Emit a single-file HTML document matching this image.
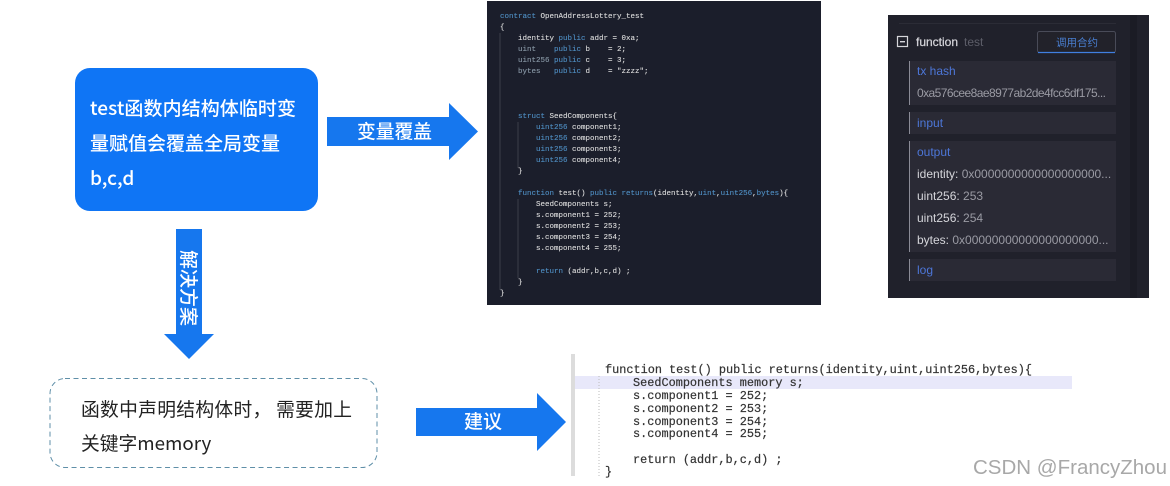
<!DOCTYPE html>
<html><head><meta charset="utf-8">
<style>
html,body{margin:0;padding:0;background:#fff;width:1170px;height:486px;overflow:hidden}
svg{display:block}
text{white-space:pre}
.s{font-family:"Noto Sans CJK SC","Liberation Sans",sans-serif}
.c text{font-family:"Liberation Mono",monospace;font-size:7.5px;stroke-width:.12}
.r text{font-family:"Liberation Mono",monospace;font-size:11.87px;fill:#333;stroke:#333;stroke-width:.2}
.w{fill:#fff;font-family:"Noto Sans CJK SC","Liberation Sans",sans-serif;font-weight:500}
.p text{font-family:"Liberation Sans","Noto Sans CJK SC",sans-serif;font-size:12px}
.bl{fill:#4d76d8}.gr{fill:#9a9aa3}.wh{fill:#d5d5da}
.k{fill:#4f8fc4;stroke:#4f8fc4}.t{fill:#dcdcdc;stroke:#dcdcdc}.d{fill:#8a9aa8;stroke:#8a9aa8}
</style></head><body>
<svg width="1170" height="486" viewBox="0 0 1170 486" xmlns="http://www.w3.org/2000/svg">
<defs><filter id="b" x="-2%" y="-2%" width="104%" height="104%"><feGaussianBlur stdDeviation="0.35"/></filter></defs>
<rect x="75" y="68" width="243" height="143" rx="15" fill="#0f75f5"/>
<g class="s" fill="#fff" font-size="19" font-weight="500">
<text x="90" y="115" textLength="206">test函数内结构体临时变</text>
<text x="90" y="150" textLength="190">量赋值会覆盖全局变量</text>
<text x="90" y="185">b,c,d</text>
</g>
<polygon points="327,117 449,117 449,103 478,131.500 449,160 449,146 327,146" fill="#1677ee"/>
<text class="w" x="357" y="138" font-size="18.750">变量覆盖</text>
<polygon points="176,229 202,229 202,334 214,334 189,359 164,334 176,334" fill="#1677ee"/>
<text class="w" font-size="19" transform="translate(182,250) rotate(90)">解决方案</text>
<rect x="50" y="378.500" width="327" height="89" rx="15" fill="#fff" stroke="#5f8fa8" stroke-width="1" stroke-dasharray="5 3.500"/>
<g class="s" fill="#222" font-size="18.750">
<text x="81" y="416" textLength="271">函数中声明结构体时， 需要加上</text>
<text x="81" y="450">关键字memory</text>
</g>
<polygon points="416,408 537,408 537,393 566,422 537,451 537,436 416,436" fill="#1677ee"/>
<text class="w" x="464" y="428" font-size="19">建议</text>

<rect x="487" y="1" width="334" height="304" fill="#1b1e2b"/>
<g filter="url(#b)">
<path d="M500 33V290M518 122V168M518 199V278" stroke="#3a3d4a" stroke-width="1" fill="none"/>
<g class="c">
<text x="500" y="18"><tspan class="k">contract</tspan><tspan class="t"> OpenAddressLottery_test</tspan></text>
<text x="500" y="29" class="t">{</text>
<text x="518" y="40"><tspan class="t">identity</tspan><tspan class="k"> public</tspan><tspan class="t"> addr = 0xa;</tspan></text>
<text x="518" y="51"><tspan class="d">uint</tspan><tspan class="k">    public</tspan><tspan class="t"> b    = 2;</tspan></text>
<text x="518" y="62"><tspan class="d">uint256</tspan><tspan class="k"> public</tspan><tspan class="t"> c    = 3;</tspan></text>
<text x="518" y="73"><tspan class="d">bytes</tspan><tspan class="k">   public</tspan><tspan class="t"> d    = "zzzz";</tspan></text>
<text x="518" y="118"><tspan class="k">struct</tspan><tspan class="t"> SeedComponents{</tspan></text>
<text x="536" y="129"><tspan class="k">uint256</tspan><tspan class="t"> component1;</tspan></text>
<text x="536" y="140"><tspan class="k">uint256</tspan><tspan class="t"> component2;</tspan></text>
<text x="536" y="151"><tspan class="k">uint256</tspan><tspan class="t"> component3;</tspan></text>
<text x="536" y="162"><tspan class="k">uint256</tspan><tspan class="t"> component4;</tspan></text>
<text x="518" y="173" class="t">}</text>
<text x="518" y="195"><tspan class="k">function</tspan><tspan class="t"> test()</tspan><tspan class="k"> public returns</tspan><tspan class="t">(identity,</tspan><tspan class="k">uint</tspan><tspan class="t">,</tspan><tspan class="k">uint256</tspan><tspan class="t">,</tspan><tspan class="k">bytes</tspan><tspan class="t">){</tspan></text>
<text x="536" y="206" class="t">SeedComponents s;</text>
<text x="536" y="217" class="t">s.component1 = 252;</text>
<text x="536" y="228" class="t">s.component2 = 253;</text>
<text x="536" y="239" class="t">s.component3 = 254;</text>
<text x="536" y="250" class="t">s.component4 = 255;</text>
<text x="536" y="273"><tspan class="k">return</tspan><tspan class="t"> (addr,b,c,d) ;</tspan></text>
<text x="518" y="284" class="t">}</text>
<text x="500" y="295" class="t">}</text>
</g>
</g>

<rect x="888" y="15" width="261" height="283" fill="#20212b"/>
<rect x="1130" y="15" width="7" height="283" fill="#1b1c25"/>
<rect x="899" y="23" width="217" height="1" fill="#2b2c36"/>
<g filter="url(#b)">
<rect x="897.500" y="36.500" width="10" height="10" fill="none" stroke="#d5d5da" stroke-width="1.200"/>
<rect x="900" y="41" width="5" height="1.400" fill="#d5d5da"/>
<rect x="1037.500" y="31.500" width="78" height="21" rx="2" fill="#20212b" stroke="#4a4c58"/>
<path d="M1038 52.500H1115" stroke="#3f7fe0" stroke-width="1.200"/>
<rect x="909" y="61" width="207" height="44" fill="#2a2b36"/>
<rect x="909" y="112" width="207" height="22" fill="#2a2b36"/>
<rect x="909" y="141" width="207" height="111" fill="#2a2b36"/>
<rect x="909" y="259" width="207" height="22" fill="#2a2b36"/>
<path d="M909.500 61V105M909.500 112V134M909.500 141V252M909.500 259V281" stroke="#8a8b96" stroke-width="1"/>
<g class="p">
<text x="916" y="46" class="wh" stroke="#d5d5da" stroke-width=".25">function</text>
<text x="964" y="46" fill="#5c5d68">test</text>
<text x="1056" y="46" fill="#4a7fd0" style="font-size:10.500px">调用合约</text>
<text x="917" y="75" class="bl">tx hash</text>
<text x="917" y="97" class="gr" textLength="189">0xa576cee8ae8977ab2de4fcc6df175...</text>
<text x="917" y="127" class="bl">input</text>
<text x="917" y="156" class="bl">output</text>
<text x="917" y="178"><tspan class="wh">identity:</tspan><tspan class="gr"> 0x0000000000000000000...</tspan></text>
<text x="917" y="200"><tspan class="wh">uint256:</tspan><tspan class="gr"> 253</tspan></text>
<text x="917" y="222"><tspan class="wh">uint256:</tspan><tspan class="gr"> 254</tspan></text>
<text x="917" y="244"><tspan class="wh">bytes:</tspan><tspan class="gr"> 0x00000000000000000000...</tspan></text>
<text x="917" y="274" class="bl">log</text>
</g>
</g>

<rect x="571" y="354" width="4" height="122" fill="#dcdcdc"/>
<rect x="575" y="376" width="497" height="13" fill="#e8e8fa"/>
<path d="M599 376V476" stroke="#bbb" stroke-width="1" stroke-dasharray="1 2"/>
<g class="r" filter="url(#b)">
<text x="605" y="373">function test() public returns(identity,uint,uint256,bytes){</text>
<text x="633" y="386">SeedComponents memory s;</text>
<text x="633" y="399">s.component1 = 252;</text>
<text x="633" y="412">s.component2 = 253;</text>
<text x="633" y="425">s.component3 = 254;</text>
<text x="633" y="437">s.component4 = 255;</text>
<text x="633" y="463">return (addr,b,c,d) ;</text>
<text x="605" y="475">}</text>
</g>
<text x="973" y="474" font-family="'Liberation Sans',sans-serif" font-size="20.500" fill="#a8a8a8">CSDN @FrancyZhou</text>
</svg>
</body></html>
